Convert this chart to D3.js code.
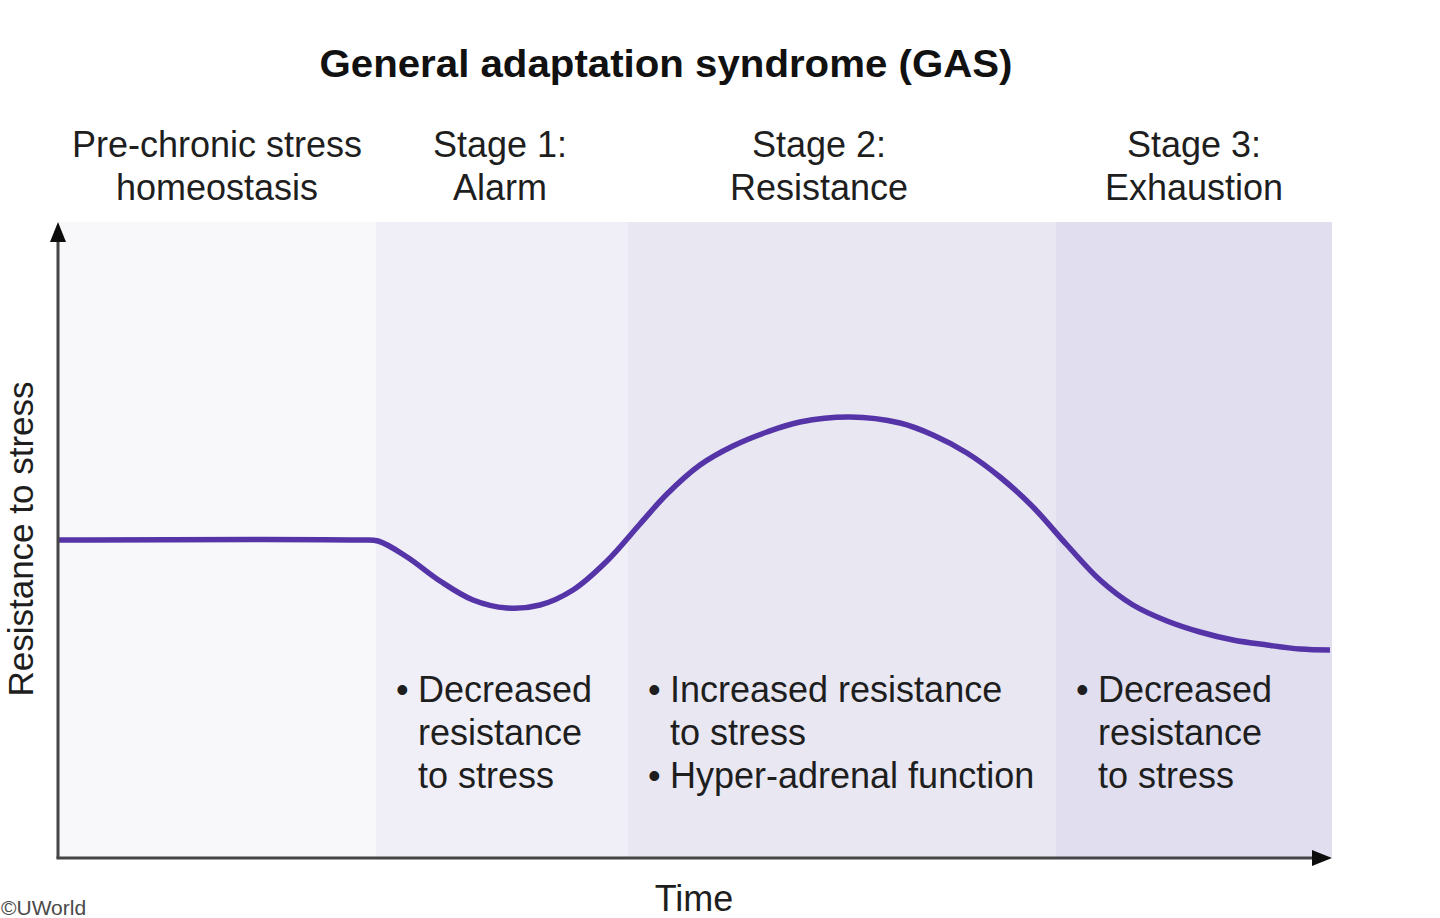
<!DOCTYPE html>
<html>
<head>
<meta charset="utf-8">
<script src="https://cdn.jsdelivr.net/npm/d3@7"></script>
<style>
  html, body { margin: 0; padding: 0; background: #ffffff; }
  svg { display: block; }
  text { font-family: "Liberation Sans", Arial, Helvetica, sans-serif; }
</style>
</head>
<body>
<svg id="chart" width="1440" height="918"></svg>
<script>
// ---------------- data ----------------
const titleText = "General adaptation syndrome (GAS)";
const xAxisLabel = "Time";
const yAxisLabel = "Resistance to stress";
const watermark = "\u00A9UWorld";

// stage boundaries on the time axis (arbitrary units)
const stageStart = [0, 318, 570, 998];
const stageEnd   = [318, 570, 998, 1274];
const stageTitleLine1 = ["Pre-chronic stress", "Stage 1:", "Stage 2:", "Stage 3:"];
const stageTitleLine2 = ["homeostasis", "Alarm", "Resistance", "Exhaustion"];
const stageColors = ["#f8f8fb", "#f0eff7", "#e8e7f2", "#e0deef"];

// bullet notes per stage (each entry: list of bullets, each bullet: list of lines)
const stageNotes = [
  [],
  [["Decreased", "resistance", "to stress"]],
  [["Increased resistance", "to stress"], ["Hyper-adrenal function"]],
  [["Decreased", "resistance", "to stress"]]
];

// resistance curve (time, resistance)
const curveTime = [0, 300, 320, 349, 382, 415, 449, 482, 515, 549, 582, 609, 642, 675, 709, 742,
                   792, 842, 875, 909, 942, 975, 1009, 1042, 1075, 1109, 1142, 1175, 1209, 1242, 1272];
const curveResistance = [317, 317, 316, 300, 276, 257, 249, 252, 267, 296, 333, 363, 392, 411, 425, 435,
                         440, 434, 422, 404, 380, 350, 312, 277, 252, 236, 225, 217, 212, 208, 207];

const timeDomain = [0, 1274];
const resistanceDomain = [0, 635];

// ---------------- drawing ----------------
(function () {
const svg = d3.select("#chart");
const pLeft = 58, pRight = 1332, pTop = 222, pBottom = 857;

const x = d3.scaleLinear().domain(timeDomain).range([pLeft, pRight]);
const y = d3.scaleLinear().domain(resistanceDomain).range([pBottom, pTop]);

const textColor = "#1e1e1e";
const fs = 36;

// title
svg.append("text")
  .attr("x", 666).attr("y", 77)
  .attr("text-anchor", "middle")
  .attr("font-size", 39)
  .attr("font-weight", "bold")
  .attr("fill", "#111")
  .attr("textLength", 693)
  .attr("lengthAdjust", "spacingAndGlyphs")
  .text(titleText);

// background bands
const stages = stageStart.map((s, i) => ({ s, e: stageEnd[i], i }));
svg.append("g").selectAll("rect").data(stages).join("rect")
  .attr("x", d => x(d.s))
  .attr("y", y(resistanceDomain[1]))
  .attr("width", d => x(d.e) - x(d.s))
  .attr("height", y(0) - y(resistanceDomain[1]))
  .attr("fill", d => stageColors[d.i]);

// stage titles
const labelShift = [0, -2, -23, 0];
const stageLabels = svg.append("g").attr("fill", textColor).attr("font-size", fs).attr("text-anchor", "middle");
stages.forEach(d => {
  const cx = (x(d.s) + x(d.e)) / 2 + labelShift[d.i];
  stageLabels.append("text").attr("x", cx).attr("y", 157).text(stageTitleLine1[d.i]);
  stageLabels.append("text").attr("x", cx).attr("y", 200).text(stageTitleLine2[d.i]);
});

// notes
const notes = svg.append("g").attr("fill", textColor).attr("font-size", fs);
const lineGap = 43;
stages.forEach(d => {
  let lineIdx = 0;
  const bx = x(d.s);
  stageNotes[d.i].forEach(bullet => {
    bullet.forEach((ln, k) => {
      const yy = 702 + lineIdx * lineGap;
      if (k === 0) {
        notes.append("text").attr("x", bx + 20).attr("y", yy).text("\u2022");
      }
      notes.append("text").attr("x", bx + 42).attr("y", yy).text(ln);
      lineIdx++;
    });
  });
});

// curve
const pts = curveTime.map((t, i) => [t, curveResistance[i]]);
const line = d3.line().x(d => x(d[0])).y(d => y(d[1])).curve(d3.curveCatmullRom.alpha(0.5));
svg.append("path")
  .datum(pts)
  .attr("d", line)
  .attr("fill", "none")
  .attr("stroke", "#5534a8")
  .attr("stroke-width", 5.5)
  .attr("stroke-linecap", "butt")
  .attr("stroke-linejoin", "round");

// axes
const axisColor = "#454545";
const ax = svg.append("g");
ax.append("line")
  .attr("x1", x(0)).attr("x2", x(0))
  .attr("y1", y(0) + 1.5).attr("y2", y(resistanceDomain[1]) + 12)
  .attr("stroke", axisColor).attr("stroke-width", 3);
ax.append("line")
  .attr("x1", x(0) - 1.5).attr("x2", x(timeDomain[1]) - 12)
  .attr("y1", y(0) + 1).attr("y2", y(0) + 1)
  .attr("stroke", axisColor).attr("stroke-width", 3);
// arrowheads
const yTip = y(resistanceDomain[1]);
ax.append("path")
  .attr("d", `M${x(0)},${yTip} L${x(0) - 8},${yTip + 20} L${x(0) + 8},${yTip + 20} Z`)
  .attr("fill", "#0d0d0d");
const xTip = x(timeDomain[1]);
ax.append("path")
  .attr("d", `M${xTip},${y(0) + 1} L${xTip - 20},${y(0) - 7} L${xTip - 20},${y(0) + 9} Z`)
  .attr("fill", "#0d0d0d");

// axis labels
svg.append("text")
  .attr("x", 694).attr("y", 911)
  .attr("text-anchor", "middle")
  .attr("font-size", fs).attr("fill", textColor)
  .text(xAxisLabel);

svg.append("text")
  .attr("transform", "translate(33,539) rotate(-90)")
  .attr("text-anchor", "middle")
  .attr("font-size", 35).attr("fill", textColor)
  .text(yAxisLabel);

// watermark
svg.append("text")
  .attr("x", 1).attr("y", 915)
  .attr("text-anchor", "start")
  .attr("font-size", 21).attr("fill", "#4a4a4a")
  .text(watermark);
})();
</script>
</body>
</html>
